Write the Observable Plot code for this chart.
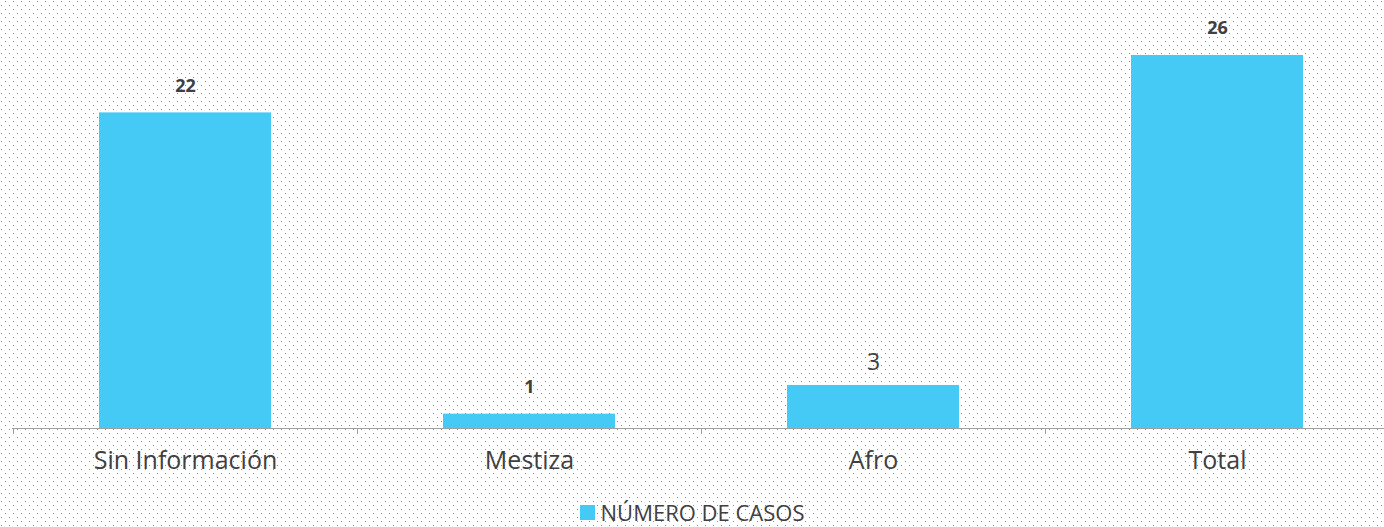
<!DOCTYPE html>
<html><head><meta charset="utf-8">
<script src="https://cdn.jsdelivr.net/npm/d3@7"></script>
<script src="https://cdn.jsdelivr.net/npm/@observablehq/plot@0.6"></script>
<style>
html,body{margin:0;padding:0;}
body{width:1384px;height:527px;overflow:hidden;background-color:#fff;
background-image:url("data:image/svg+xml;utf8,<svg xmlns='http://www.w3.org/2000/svg' width='8' height='8'><rect x='5' y='1' width='1' height='1' fill='%23888888'/><rect x='1' y='5' width='1' height='1' fill='%23888888'/></svg>");
font-family:"Open Sans",sans-serif;}
#chart svg{display:block;}
#legend{height:30px;padding-top:2px;display:flex;align-items:center;justify-content:center;gap:6px;font-size:22px;line-height:26px;color:#404040;}
#legend .sw{width:15px;height:15px;background:#45C9F5;display:inline-block;}
</style></head>
<body>
<div id="chart"></div>
<div id="legend"></div>
<script>
const categories = ["Sin Información", "Mestiza", "Afro", "Total"];
const values = [22, 1, 3, 26];
const seriesName = "NÚMERO DE CASOS";

const data = categories.map((c, i) => ({category: c, value: values[i]}));
const barColor = "#45C9F5";
const axisColor = "#a0a0a0";
const textColor = "#404040";

function boundaryTicks(index, scales) {
  const x = scales.x;
  const bw = typeof x.bandwidth === "function" ? x.bandwidth() : x.bandwidth;
  const step = x(categories[1]) - x(categories[0]);
  const start = x(categories[0]) - (step - bw) / 2;
  const y0 = scales.y(0);
  const g = d3.create("svg:g").attr("stroke", axisColor).attr("stroke-width", 1);
  for (let i = 0; i <= categories.length; i++) {
    const px = Math.round(start + i * step) + 0.5;
    g.append("line").attr("x1", px).attr("x2", px).attr("y1", y0).attr("y2", y0 + 6);
  }
  return g.node();
}

const chart = Plot.plot({
  width: 1384,
  height: 495,
  marginLeft: 12,
  marginRight: -6,
  marginTop: 55,
  marginBottom: 67,
  style: {background: "transparent", fontFamily: "'Open Sans', sans-serif", color: textColor},
  x: {domain: categories, paddingInner: 0.5, paddingOuter: 0.25, label: null, axis: null},
  y: {domain: [0, 26], axis: null},
  marks: [
    Plot.barY(data, {x: "category", y: "value", fill: barColor}),
    Plot.ruleY([0], {stroke: axisColor, strokeWidth: 1.2}),
    boundaryTicks,
    Plot.text(data.filter(d => d.category !== "Afro"), {x: "category", y: "value", text: d => String(d.value), dy: -27, fontSize: 18, fontWeight: 700, fill: textColor}),
    Plot.text(data.filter(d => d.category === "Afro"), {x: "category", y: "value", text: d => String(d.value), dy: -23, fontSize: 23, fill: textColor}),
    Plot.axisX({tickSize: 0, tickPadding: 23, fontSize: 25, fill: textColor, label: null})
  ]
});
document.getElementById("chart").appendChild(chart);
const lg = document.getElementById("legend");
lg.innerHTML = `<span class="sw"></span><span>${seriesName}</span>`;
</script>
</body></html>
